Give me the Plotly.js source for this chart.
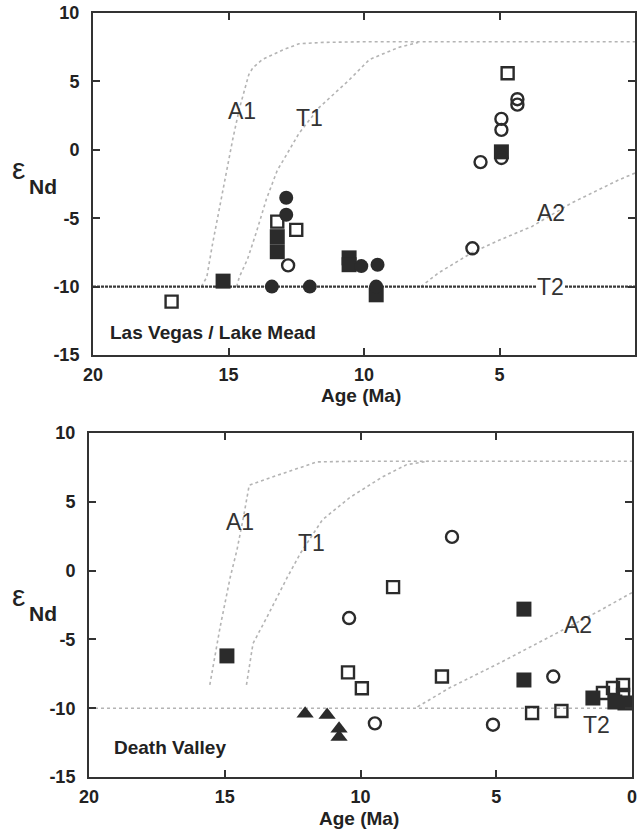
<!DOCTYPE html>
<html>
<head>
<meta charset="utf-8">
<script src="https://cdn.plot.ly/plotly-3.0.1.min.js"></script>
<style>html,body{margin:0;padding:0;background:#fff;}#chart{width:638px;height:831px;}</style>
</head>
<body>
<div id="chart"></div>
<script>
// ---------- Top panel: Las Vegas / Lake Mead ----------
const topOpenSquareAge = [17.1, 13.2, 12.5, 4.7];
const topOpenSquareEps = [-11.1, -5.25, -5.85, 5.6];
const topFilledSquareAge = [15.2, 13.2, 13.2, 10.55, 10.55, 9.55, 4.93];
const topFilledSquareEps = [-9.6, -6.35, -7.45, -7.9, -8.4, -10.6, -0.15];
const topFilledCircleAge = [13.4, 12.0, 12.87, 12.87, 10.1, 9.5, 9.55];
const topFilledCircleEps = [-10.0, -10.0, -3.5, -4.75, -8.5, -8.4, -10.0];
const topOpenCircleAge = [12.8, 4.34, 4.34, 4.93, 4.93, 4.93, 5.7, 6.0];
const topOpenCircleEps = [-8.45, 3.7, 3.3, 2.26, 1.46, -0.6, -0.9, -7.2];

// model curves (top)
const topA1Age = [16.0, 15.8, 15.6, 15.4, 15.1, 14.85, 14.6, 14.4, 14.25, 14.1, 13.75, 13.0, 12.4, 11.5, 10, 5, 0];
const topA1Eps = [-10, -9.3, -7.0, -4.9, -2.0, 0.7, 3.0, 4.5, 5.5, 6.0, 6.6, 7.3, 7.75, 7.85, 7.9, 7.9, 7.9];
const topT1Age = [14.7, 14.6, 14.3, 14.0, 13.6, 13.2, 12.9, 12.4, 11.65, 10.55, 9.8, 8.7, 8.0];
const topT1Eps = [-10, -9.3, -8.0, -6.2, -3.6, -1.5, -0.5, 1.2, 3.1, 5.1, 6.6, 7.5, 7.85];
const topA2Age = [7.9, 7.25, 6.0, 5.0, 3.8, 2.35, 0.6, 0];
const topA2Eps = [-10, -9.0, -7.5, -6.6, -5.6, -3.9, -2.2, -1.7];
const topT2Age = [20, 0];
const topT2Eps = [-10, -10];

// ---------- Bottom panel: Death Valley ----------
const botFilledSquareAge = [14.92, 3.98, 3.98, 1.44, 0.63, 0.26];
const botFilledSquareEps = [-6.2, -2.8, -7.95, -9.26, -9.55, -9.62];
const botOpenSquareAge = [10.46, 9.95, 8.8, 7.0, 3.68, 2.6, 1.07, 0.7, 0.33, 0.33];
const botOpenSquareEps = [-7.4, -8.55, -1.2, -7.7, -10.35, -10.2, -8.9, -8.53, -8.31, -9.04];
const botOpenCircleAge = [10.42, 9.47, 6.63, 5.12, 2.9];
const botOpenCircleEps = [-3.45, -11.1, 2.45, -11.2, -7.7];
const botTriangleAge = [12.04, 11.23, 10.79, 10.79];
const botTriangleEps = [-10.4, -10.5, -11.5, -12.1];

// model curves (bottom)
const botA1Age = [15.55, 15.35, 15.17, 14.8, 14.55, 14.3, 14.1, 13.4, 12.2, 11.6, 10, 5, 0];
const botA1Eps = [-8.3, -6.0, -4.1, -0.5, 1.5, 4.0, 6.2, 6.7, 7.5, 7.9, 7.95, 7.95, 7.95];
const botT1Age = [14.2, 13.96, 13.45, 12.7, 12.2, 11.4, 10.4, 9.2, 8.3, 7.5];
const botT1Eps = [-8.3, -5.3, -3.4, -0.5, 1.3, 3.7, 5.3, 6.8, 7.7, 7.95];
const botA2Age = [7.9, 6.7, 4.86, 3.0, 1.18, 0];
const botA2Eps = [-9.9, -8.5, -6.7, -4.8, -2.9, -1.6];
const botT2Age = [20, 0];
const botT2Eps = [-10, -10];

const xTicks = [20, 15, 10, 5, 0];
const yTicks = [10, 5, 0, -5, -10, -15];

const INK = '#2b2b2b';
const CURVE = '#b4b4b4';

function curve(x, y, xa, ya, color, w, dash) {
  return {x: x, y: y, xaxis: xa, yaxis: ya, type: 'scatter', mode: 'lines',
    line: {color: color, width: w, dash: dash}, hoverinfo: 'skip'};
}
function pts(x, y, xa, ya, symbol, size, open) {
  return {x: x, y: y, xaxis: xa, yaxis: ya, type: 'scatter', mode: 'markers',
    marker: {symbol: symbol, size: size, color: INK,
      line: {color: INK, width: open ? 2.4 : 0}}};
}

const data = [
  curve(topA1Age, topA1Eps, 'x', 'y', CURVE, 1.6, 'dot'),
  curve(topT1Age, topT1Eps, 'x', 'y', CURVE, 1.6, 'dot'),
  curve(topA2Age, topA2Eps, 'x', 'y', CURVE, 1.6, 'dot'),
  curve(topT2Age, topT2Eps, 'x', 'y', '#3a3a3a', 2.2, '3px,1px'),
  pts(topOpenSquareAge, topOpenSquareEps, 'x', 'y', 'square-open', 12, true),
  pts(topFilledSquareAge, topFilledSquareEps, 'x', 'y', 'square', 15, false),
  pts(topFilledCircleAge, topFilledCircleEps, 'x', 'y', 'circle', 14, false),
  pts(topOpenCircleAge, topOpenCircleEps, 'x', 'y', 'circle-open', 12, true),

  curve(botA1Age, botA1Eps, 'x2', 'y2', CURVE, 1.6, 'dot'),
  curve(botT1Age, botT1Eps, 'x2', 'y2', CURVE, 1.6, 'dot'),
  curve(botA2Age, botA2Eps, 'x2', 'y2', CURVE, 1.6, 'dot'),
  curve(botT2Age, botT2Eps, 'x2', 'y2', CURVE, 1.6, 'dot'),
  pts(botOpenSquareAge, botOpenSquareEps, 'x2', 'y2', 'square-open', 12, true),
  pts(botFilledSquareAge, botFilledSquareEps, 'x2', 'y2', 'square', 15, false),
  pts(botOpenCircleAge, botOpenCircleEps, 'x2', 'y2', 'circle-open', 12, true),
  pts(botTriangleAge, botTriangleEps, 'x2', 'y2', 'triangle-up', 15, false)
];

const W = 638, H = 831;
const FAM = 'Liberation Sans, Arial, sans-serif';
const tickFont = {family: FAM, size: 18, color: '#222', weight: 'bold'};
function xAxis(dom, anchor) {
  return {domain: dom, anchor: anchor, range: [20, 0], tickvals: xTicks, ticktext: xTicks.map(String),
    ticks: 'inside', ticklen: 7, tickwidth: 2, tickcolor: '#333', showline: true, linecolor: '#333',
    linewidth: 2, mirror: 'ticks', showgrid: false, zeroline: false, tickfont: tickFont,
    ticklabelstandoff: 2, fixedrange: true};
}
function yAxis(dom, anchor) {
  return {domain: dom, anchor: anchor, range: [-15, 10], tickvals: yTicks, ticktext: yTicks.map(String),
    ticks: 'inside', ticklen: 7, tickwidth: 2, tickcolor: '#333', showline: true, linecolor: '#333',
    linewidth: 2, mirror: 'ticks', showgrid: false, zeroline: false, tickfont: tickFont,
    ticklabelstandoff: 8, fixedrange: true};
}

function paperText(text, px, py, size, bold, anchor) {
  return {text: text, xref: 'paper', yref: 'paper', x: px / W, y: 1 - py / H,
    xanchor: anchor || 'center', yanchor: 'middle', showarrow: false,
    font: {family: FAM, size: size, color: '#222', weight: bold ? 'bold' : 'normal'}};
}
function dataText(text, xa, ya, x, y, bg) {
  return {text: text, xref: xa, yref: ya, x: x, y: y, showarrow: false,
    xanchor: 'center', yanchor: 'middle', bgcolor: bg ? '#ffffff' : 'rgba(0,0,0,0)', borderpad: 0,
    font: {family: FAM, size: 23, color: '#333'}};
}

const layout = {
  width: W, height: H,
  margin: {l: 0, r: 0, t: 0, b: 0},
  paper_bgcolor: '#fff', plot_bgcolor: '#fff',
  showlegend: false,
  xaxis: xAxis([93 / W, 635 / W], 'y'),
  yaxis: yAxis([1 - 355 / H, 1 - 13 / H], 'x'),
  xaxis2: xAxis([89 / W, 632 / W], 'y2'),
  yaxis2: yAxis([1 - 777 / H, 1 - 433 / H], 'x2'),
  annotations: [
    paperText('Age (Ma)', 361, 395, 19, true),
    paperText('Age (Ma)', 359, 818, 19, true),
    paperText('ε', 18, 168, 30, false),
    paperText('Nd', 43, 187, 21, true),
    paperText('ε', 18, 595, 30, false),
    paperText('Nd', 43, 613, 21, true),
    paperText('Las Vegas / Lake Mead', 108, 333, 19, true, 'left'),
    paperText('Death Valley', 112, 747, 19, true, 'left'),
    dataText('A1', 'x', 'y', 14.5, 2.8),
    dataText('T1', 'x', 'y', 12.0, 2.3),
    dataText('A2', 'x', 'y', 3.1, -4.6),
    dataText('T2', 'x', 'y', 3.1, -10, true),
    dataText('A1', 'x2', 'y2', 14.44, 3.5),
    dataText('T1', 'x2', 'y2', 11.8, 2.0),
    dataText('A2', 'x2', 'y2', 2.0, -3.95),
    dataText('T2', 'x2', 'y2', 1.3, -11.2)
  ]
};

Plotly.newPlot('chart', data, layout, {displayModeBar: false, staticPlot: true});
</script>
</body>
</html>
